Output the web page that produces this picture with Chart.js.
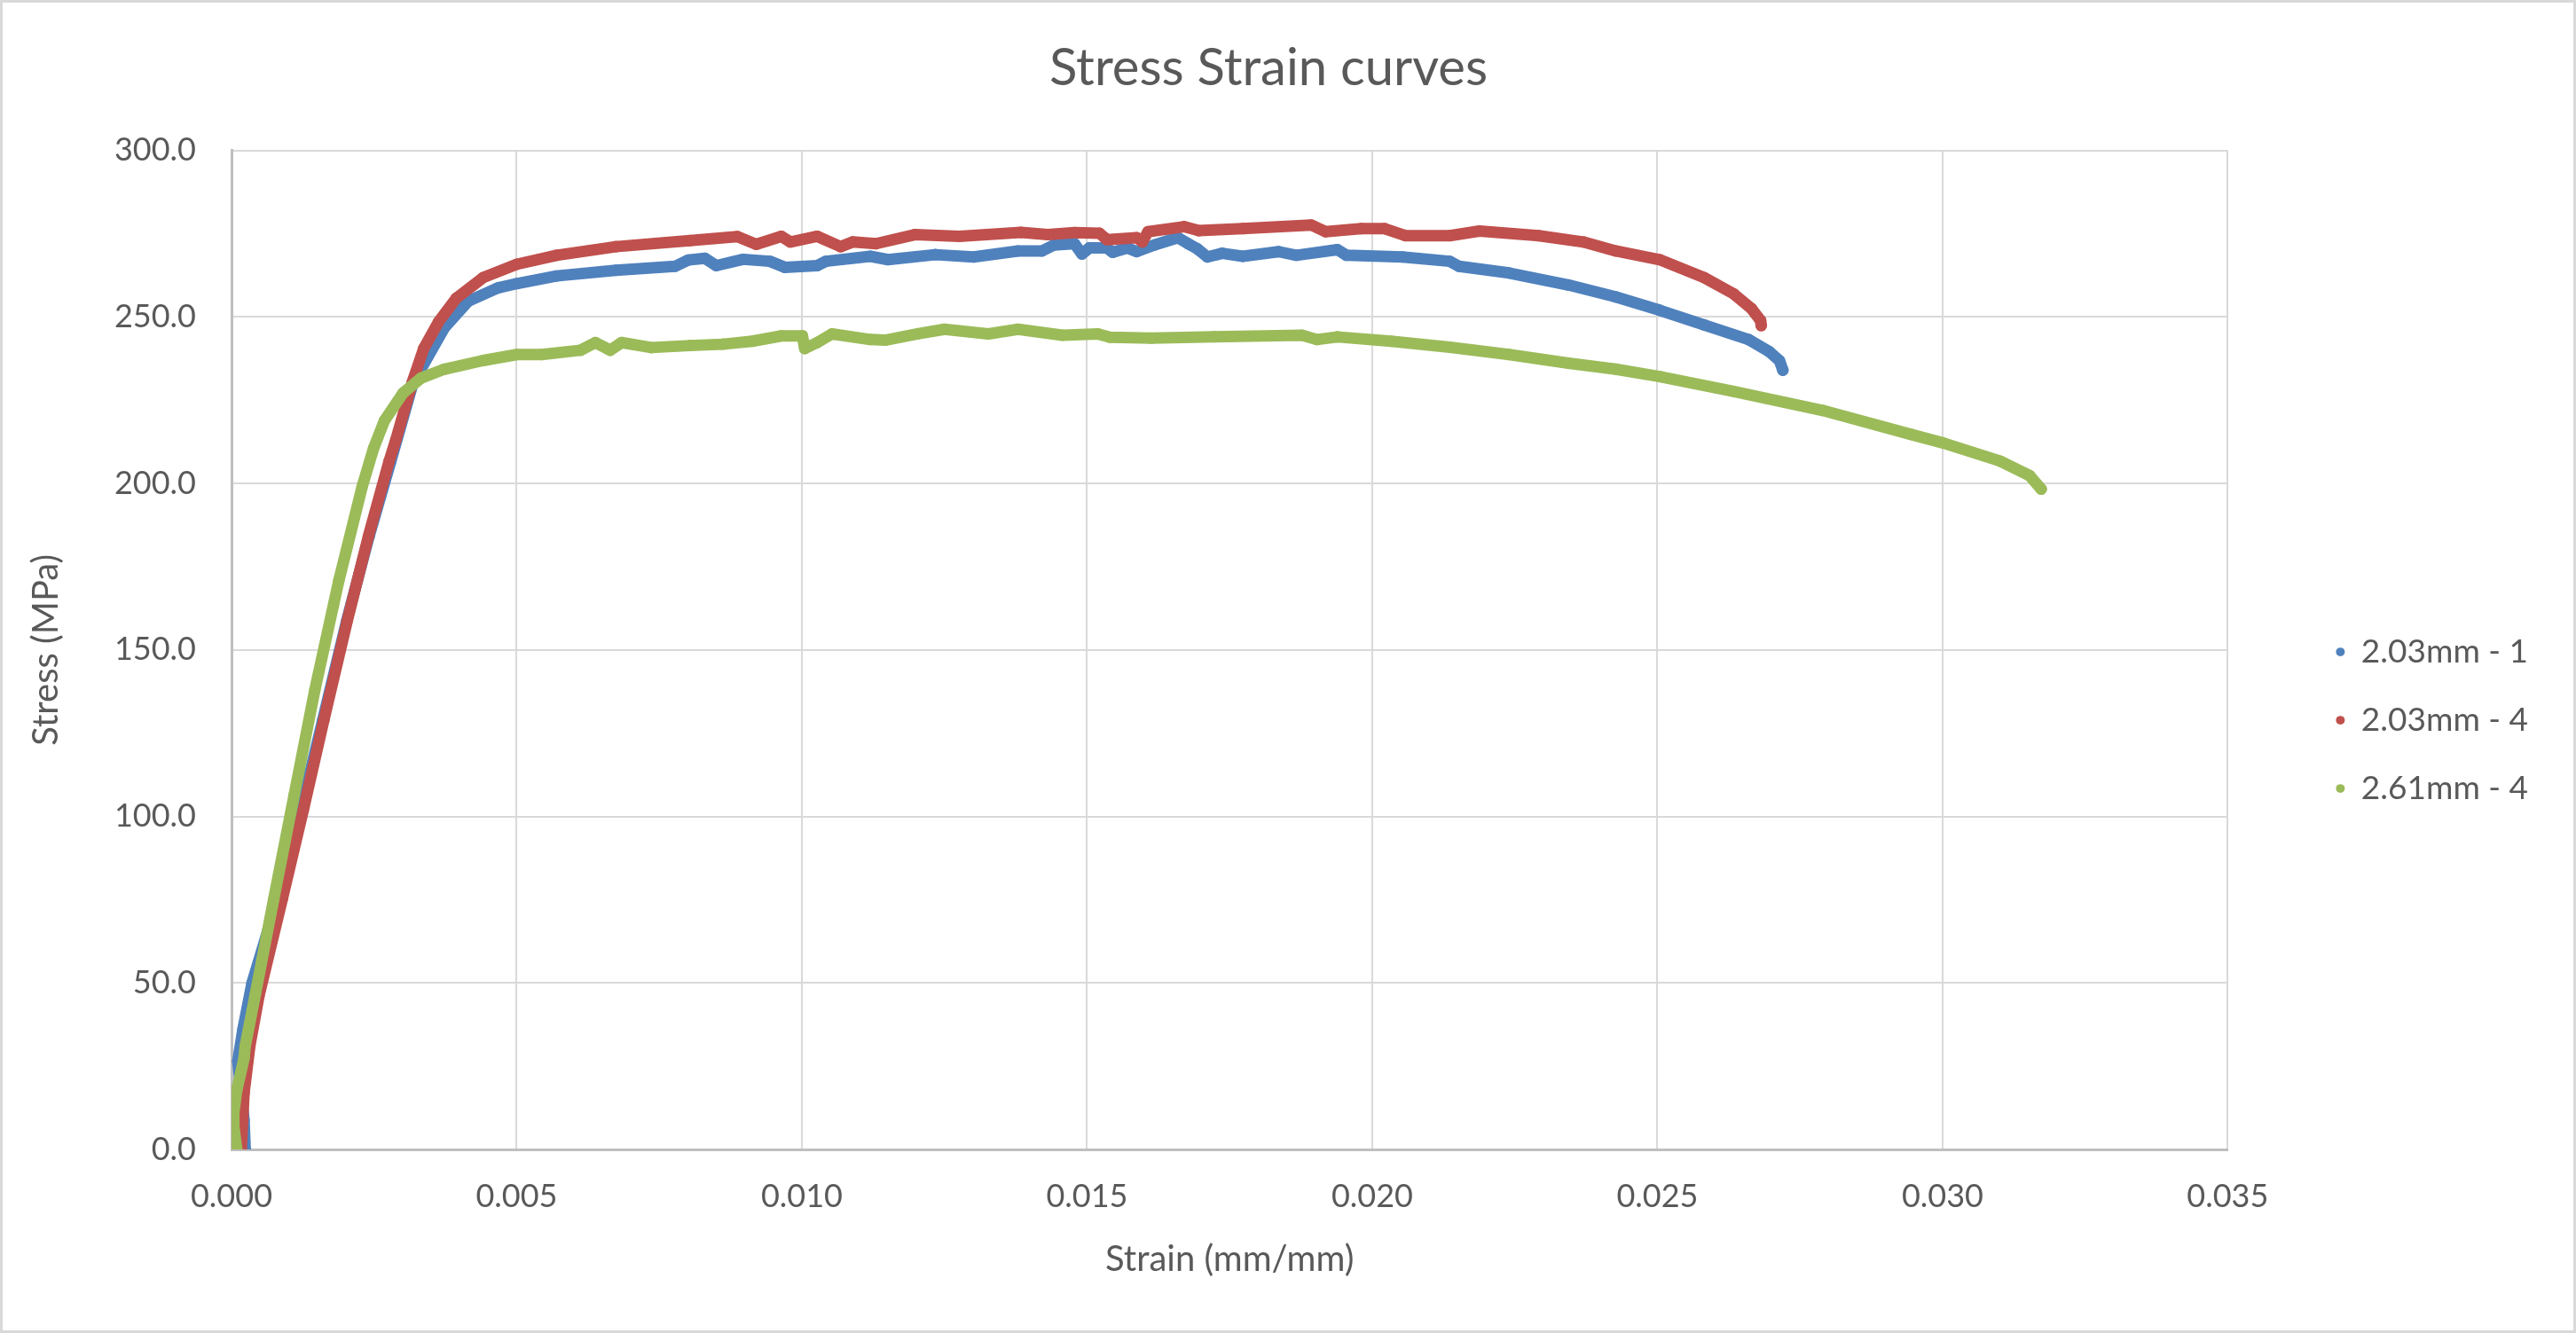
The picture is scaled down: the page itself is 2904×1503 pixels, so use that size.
<!DOCTYPE html>
<html>
<head>
<meta charset="utf-8">
<script src="https://cdn.jsdelivr.net/npm/chart.js@4.4.1/dist/chart.umd.min.js"></script>
<style>
  html, body { margin: 0; padding: 0; background: #ffffff; }
  canvas { display: block; }
</style>
</head>
<body>
<canvas id="c" width="2904" height="1503"></canvas>
<script>
const chartTitle = "Stress Strain curves";
const xAxisTitle = "Strain (mm/mm)";
const yAxisTitle = "Stress (MPa)";
const seriesNames = ["2.03mm - 1", "2.03mm - 4", "2.61mm - 4"];
const seriesColors = ["#4F81BD", "#C0504D", "#9BBB59"];

const blueStrain = [0.00024,0.00022,0.00011,0.00020,0.00036,0.00080,0.00122,0.00160,0.00202,0.00241,0.00279,0.00318,0.00332,0.00373,0.00415,0.00467,0.00500,0.00570,0.00674,0.00778,0.00801,0.00830,0.00850,0.00897,0.00944,0.00970,0.01027,0.01042,0.01120,0.01151,0.01234,0.01301,0.01379,0.01421,0.01442,0.01478,0.01491,0.01504,0.01535,0.01545,0.01571,0.01587,0.01618,0.01659,0.01677,0.01693,0.01711,0.01737,0.01773,0.01836,0.01867,0.01939,0.01955,0.02053,0.02136,0.02152,0.02240,0.02344,0.02427,0.02504,0.02582,0.02660,0.02696,0.02714,0.02720];
const blueStress = [0,8.8,26.5,36,50,75,102,129,158.8,184,206.5,230,234.3,246.7,254.7,258.7,260,262.3,264,265.2,267.1,267.6,265.4,267.3,266.7,264.9,265.4,266.7,268.2,267.2,268.7,268,269.8,269.8,271.6,272,268.9,270.7,270.7,269.4,270.7,269.6,271.6,273.8,272,270.5,268,269.1,268.2,269.6,268.5,270.2,268.5,268,266.7,265.2,263.2,259.6,256,252,247.6,243.2,239.6,236.9,234];

const redStrain = [0.00017,0.00022,0.00032,0.00048,0.00089,0.00126,0.00162,0.00203,0.00240,0.00276,0.00288,0.00317,0.00337,0.00363,0.00394,0.00441,0.00500,0.00570,0.00674,0.00804,0.00887,0.00920,0.00964,0.00980,0.01027,0.01068,0.01089,0.01130,0.01198,0.01276,0.01384,0.01431,0.01478,0.01522,0.01535,0.01587,0.01597,0.01607,0.01670,0.01696,0.01773,0.01893,0.01918,0.01981,0.02022,0.02058,0.02136,0.02188,0.02292,0.02370,0.02427,0.02504,0.02582,0.02634,0.02665,0.02681,0.02682];
const redStress = [0,17,31,46,75.2,102,129,158.8,184.1,206.5,213,230.4,240.5,248.5,255.6,261.8,265.8,268.5,271.1,272.9,274.1,271.8,274.2,272.5,274.2,271.1,272.5,272,274.7,274.2,275.4,274.7,275.3,275.1,273.2,273.8,272.5,275.6,277.1,275.9,276.5,277.6,275.6,276.5,276.5,274.4,274.4,275.8,274.4,272.5,269.8,267.2,261.8,256.9,252.5,248.9,247.4];

const greenStrain = [0.00009,0.00004,0.00004,0.00009,0.00022,0.00024,0.00042,0.00074,0.00110,0.00146,0.00188,0.00229,0.00249,0.00268,0.00301,0.00332,0.00373,0.00441,0.00500,0.00544,0.00612,0.00638,0.00664,0.00684,0.00736,0.00804,0.00861,0.00913,0.00964,0.01001,0.01005,0.01027,0.01053,0.01120,0.01146,0.01203,0.01250,0.01327,0.01379,0.01457,0.01519,0.01540,0.01613,0.01722,0.01877,0.01903,0.01939,0.02033,0.02136,0.02240,0.02344,0.02427,0.02504,0.02634,0.02790,0.02945,0.03002,0.03101,0.03153,0.03173];
const greenStress = [0.3,7,11,17.6,27.4,31,46.8,75.2,106.5,137.9,170.7,199,210.5,218.8,227.2,231.6,234.3,236.9,238.7,238.7,240,242.3,240,242.3,240.8,241.4,241.8,242.7,244.3,244.3,240.5,242.3,244.9,243.2,243,244.9,246.3,244.9,246.3,244.5,244.9,243.9,243.6,244,244.5,243.2,244,242.7,240.9,238.7,236.1,234.3,232.1,227.6,221.9,214.7,212.1,206.7,202.3,198.3];

const xTickStep = 0.005, xMin = 0, xMax = 0.035;
const yTickStep = 50, yMin = 0, yMax = 300;

function toPoints(xs, ys) { return xs.map((x, i) => ({ x: x, y: ys[i] })); }

const textColor = "#595959";
const fontFamily = "Lato, 'Open Sans', 'Liberation Sans', sans-serif";

function makeDataset(i, xs, ys, order) {
  return {
    label: seriesNames[i],
    data: toPoints(xs, ys),
    showLine: true,
    borderColor: seriesColors[i],
    backgroundColor: seriesColors[i],
    borderWidth: 13,
    borderCapStyle: 'round',
    borderJoinStyle: 'round',
    pointRadius: 6.5,
    pointBorderWidth: 0,
    pointHoverRadius: 6.5,
    pointStyle: 'circle',
    tension: 0,
    order: order
  };
}

const borderPlugin = {
  id: 'outerBorder',
  afterDraw(chart) {
    const ctx = chart.ctx;
    ctx.save();
    ctx.strokeStyle = '#D9D9D9';
    ctx.lineWidth = 3;
    ctx.strokeRect(1.5, 1.5, chart.width - 3, chart.height - 3);
    ctx.restore();
  }
};

new Chart(document.getElementById('c'), {
  type: 'scatter',
  data: {
    datasets: [
      makeDataset(0, blueStrain, blueStress, 3),
      makeDataset(1, redStrain, redStress, 2),
      makeDataset(2, greenStrain, greenStress, 1)
    ]
  },
  options: {
    responsive: false,
    animation: false,
    events: [],
    layout: { padding: { left: 0, right: 44, top: 0, bottom: 0 } },
    plugins: {
      tooltip: { enabled: false },
      title: {
        display: true,
        text: chartTitle,
        color: textColor,
        font: { family: fontFamily, size: 58, weight: 'normal' },
        padding: { top: 42, bottom: 58 }
      },
      legend: {
        display: true,
        position: 'right',
        align: 'center',
        title: { display: true, text: ' ', font: { size: 1 }, padding: { top: 0, bottom: 120 } },
        labels: {
          color: textColor,
          font: { family: fontFamily, size: 37 },
          usePointStyle: true,
          pointStyle: 'circle',
          boxHeight: 7,
          pointStyleWidth: 10,
          padding: 40,
          sort: (a, b) => a.datasetIndex - b.datasetIndex,
          generateLabels(chart) {
            const items = Chart.defaults.plugins.legend.labels.generateLabels(chart);
            return items.map(it => Object.assign(it, { lineWidth: 0, strokeStyle: 'rgba(0,0,0,0)' }));
          }
        }
      }
    },
    scales: {
      x: {
        type: 'linear',
        position: 'bottom',
        min: xMin,
        max: xMax,
        afterFit(s) { s.height = 207; },
        grid: { color: '#D9D9D9', lineWidth: 2, drawTicks: false },
        border: { display: true, color: '#BFBFBF', width: 3 },
        ticks: {
          stepSize: xTickStep,
          padding: 32,
          color: textColor,
          font: { family: fontFamily, size: 36 },
          maxRotation: 0,
          callback: v => Number(v).toFixed(3)
        },
        title: {
          display: true,
          text: xAxisTitle,
          color: textColor,
          font: { family: fontFamily, size: 40 },
          padding: { top: 0, bottom: 59 }
        }
      },
      y: {
        type: 'linear',
        position: 'left',
        min: yMin,
        max: yMax,
        afterFit(s) { s.width = 261; },
        grid: { color: '#D9D9D9', lineWidth: 2, drawTicks: false },
        border: { display: true, color: '#BFBFBF', width: 3 },
        ticks: {
          stepSize: yTickStep,
          padding: 40,
          color: textColor,
          font: { family: fontFamily, size: 36 },
          callback: v => Number(v).toFixed(1)
        },
        title: {
          display: true,
          text: yAxisTitle,
          color: textColor,
          font: { family: fontFamily, size: 40 },
          padding: { top: 28, bottom: 0 }
        }
      },
      gap: {
        type: 'linear',
        position: 'right',
        display: true,
        afterFit(s) { s.width = 82; },
        grid: { display: false, drawTicks: false },
        border: { display: false },
        ticks: { display: false },
        title: { display: false }
      }
    }
  },
  plugins: [borderPlugin]
});
</script>
</body>
</html>
